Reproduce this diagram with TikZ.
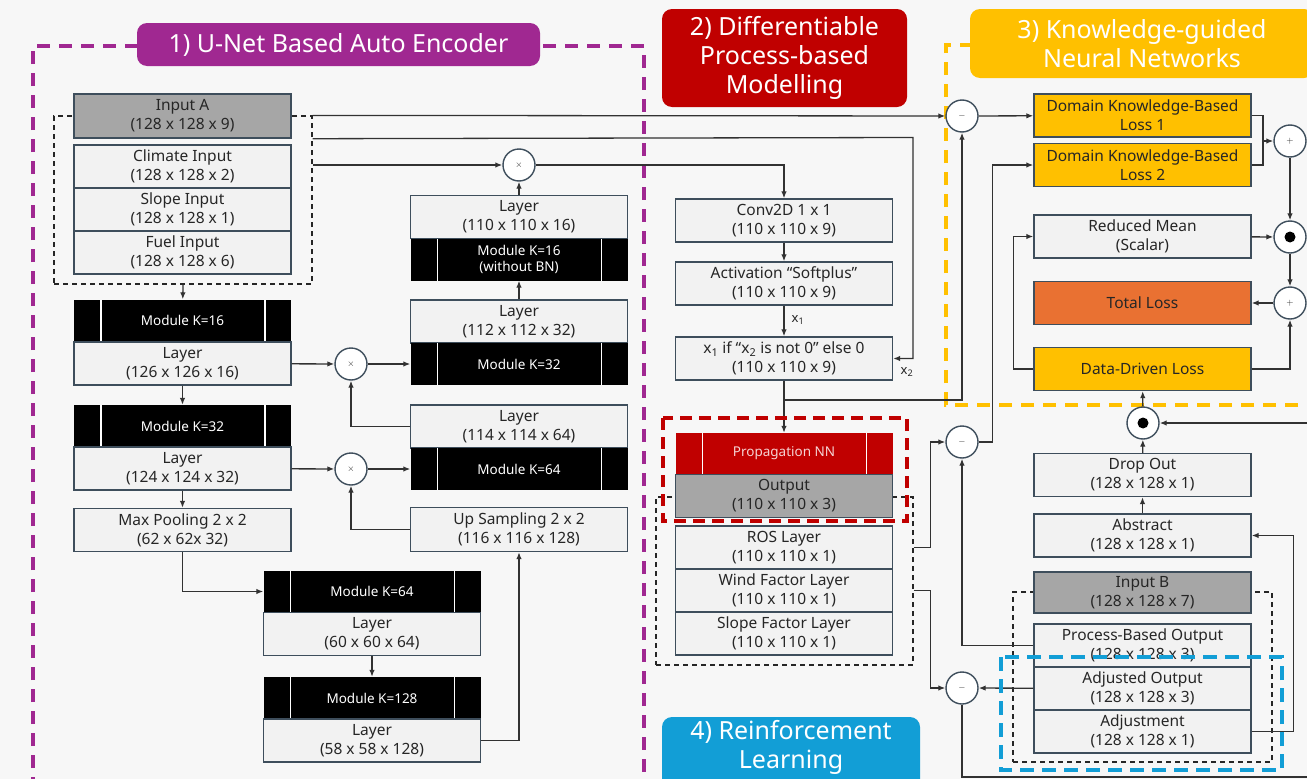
\documentclass[tikz,border=0pt]{standalone}
\usepackage{fontspec}
\setmainfont{Noto Sans}
\usetikzlibrary{arrows.meta}

\definecolor{bgc}{RGB}{247,247,247}
\definecolor{boxc}{RGB}{242,242,242}
\definecolor{edgec}{RGB}{62,78,92}
\definecolor{txtc}{RGB}{38,38,38}
\definecolor{linec}{RGB}{50,50,50}
\definecolor{darkc}{RGB}{166,166,166}
\definecolor{purpc}{RGB}{160,40,145}
\definecolor{redc}{RGB}{192,0,0}
\definecolor{pinkc}{RGB}{245,210,210}
\definecolor{yelc}{RGB}{255,192,0}
\definecolor{orgc}{RGB}{233,113,50}
\definecolor{bluec}{RGB}{18,158,214}

\tikzset{
  lay/.style={rectangle, draw=edgec, line width=1.4pt, fill=boxc, minimum width=217pt, minimum height=43pt, inner sep=0pt, align=center, text=txtc, font=\fontsize{15.5}{19}\selectfont},
  darklay/.style={lay, fill=darkc},
  losslay/.style={lay, fill=yelc},
  modk/.style={rectangle, fill=black, minimum width=217pt, minimum height=42pt, inner sep=0pt, align=center, text=white, font=\fontsize{13.5}{16}\selectfont,
    path picture={\draw[white, line width=1.2pt] ([xshift=27pt]path picture bounding box.south west) -- ([xshift=27pt]path picture bounding box.north west)
      ([xshift=-26pt]path picture bounding box.south east) -- ([xshift=-26pt]path picture bounding box.north east);}},
  opc/.style={circle, draw=edgec, line width=1.4pt, fill=white, minimum size=32pt, inner sep=0pt, text=txtc, font=\small},
  dotc/.style={opc, path picture={\fill[black] (path picture bounding box.center) circle (5.5pt);}},
  grp/.style={rectangle, draw=txtc, line width=1.2pt, dash pattern=on 5pt off 4pt, inner sep=0pt},
  wire/.style={draw=linec, line width=1.3pt},
  arr/.style={wire, -{Latex[length=7pt,width=5.5pt]}},
  secline/.style={line width=3.2pt, dash pattern=on 13pt off 9pt},
  seclab/.style={rounded corners=10pt, inner sep=0pt, text=white, align=center, font=\fontsize{25}{29}\selectfont},
  smalllab/.style={text=txtc, font=\fontsize{13}{15}\selectfont}
}

\begin{document}
\begin{tikzpicture}[x=1pt,y=1pt,yscale=-1,xscale=1]
\useasboundingbox (0,0) rectangle (1307,779);
\clip (0,0) rectangle (1307,779);
\fill[bgc] (0,0) rectangle (1307,779);

%Section Outlines
\draw[purpc, secline] (33,790) -- (33,46) -- (644,46) -- (644,790);
\draw[yelc, secline] (1320,405) -- (946,405) -- (946,45) -- (1320,45);

%Dashed Groups
\node[grp, minimum width=258pt, minimum height=168pt] (ingrp) at (183,200) {};
\node[grp, minimum width=257pt, minimum height=168pt] (rosgrp) at (784.5,581) {};
\node[grp, minimum width=259pt, minimum height=170pt] (bgrp) at (1142.5,677) {};

% U-Net encoder
\node[darklay, minimum height=44pt] (inA) at (182.5,116) {Input A\\(128 x 128 x 9)};
\node[lay] (clim) at (182.5,166.5) {Climate Input\\(128 x 128 x 2)};
\node[lay] (slp) at (182.5,209.5) {Slope Input\\(128 x 128 x 1)};
\node[lay] (fuel) at (182.5,252.5) {Fuel Input\\(128 x 128 x 6)};
\node[modk] (mkA) at (182.5,320.5) {Module K=16};
\node[lay] (lyA) at (182.5,363.5) {Layer\\(126 x 126 x 16)};
\node[modk] (mkB) at (182.5,426) {Module K=32};
\node[lay] (lyB) at (182.5,468.5) {Layer\\(124 x 124 x 32)};
\node[lay] (pool) at (182.5,530) {Max Pooling 2 x 2\\(62 x 62x 32)};
\node[modk] (mkC) at (372,591.5) {Module K=64};
\node[lay] (lyC) at (372,634) {Layer\\(60 x 60 x 64)};
\node[modk] (mkD) at (372,698) {Module K=128};
\node[lay] (lyD) at (372,740.5) {Layer\\(58 x 58 x 128)};

% U-Net decoder
\node[lay] (upA) at (519,217) {Layer\\(110 x 110 x 16)};
\node[modk] (mkE) at (519,259.5) {Module K=16\\(without BN)};
\node[lay] (upB) at (519,321.5) {Layer\\(112 x 112 x 32)};
\node[modk] (mkF) at (519,364) {Module K=32};
\node[lay] (upC) at (519,426.5) {Layer\\(114 x 114 x 64)};
\node[modk] (mkG) at (519,469) {Module K=64};
\node[lay, minimum height=44pt] (upS) at (519,529.5) {Up Sampling 2 x 2\\(116 x 116 x 128)};
\node[opc] (mulA) at (519,165) {$\times$};
\node[opc] (mulB) at (351,364) {$\times$};
\node[opc] (mulC) at (351,469) {$\times$};

% Process-based modelling
\node[lay] (conv) at (784,220.5) {Conv2D 1 x 1\\(110 x 110 x 9)};
\node[lay] (act) at (784,283.5) {Activation “Softplus”\\(110 x 110 x 9)};
\node[lay] (cond) at (784,358.5) {x\textsubscript{1} if “x\textsubscript{2} is not 0” else 0\\(110 x 110 x 9)};
\node[modk, fill=redc, text=pinkc, minimum height=41pt] (prop) at (784,453.5) {Propagation NN};
\node[darklay] (outp) at (784,496) {Output\\(110 x 110 x 3)};
\node[lay] (ros) at (784,547.5) {ROS Layer\\(110 x 110 x 1)};
\node[lay] (wind) at (784,590.5) {Wind Factor Layer\\(110 x 110 x 1)};
\node[lay] (slpf) at (784,633.5) {Slope Factor Layer\\(110 x 110 x 1)};

% Knowledge-guided losses
\node[losslay] (dkA) at (1142.5,115.5) {Domain Knowledge-Based\\Loss 1};
\node[losslay] (dkB) at (1142.5,165) {Domain Knowledge-Based\\Loss 2};
\node[lay] (rmean) at (1142.5,236.5) {Reduced Mean\\(Scalar)};
\node[lay, fill=orgc] (tot) at (1142.5,303) {Total Loss};
\node[losslay] (ddl) at (1142.5,369) {Data-Driven Loss};
\node[lay] (drop) at (1142.5,475) {Drop Out\\(128 x 128 x 1)};
\node[lay] (abst) at (1142.5,535.5) {Abstract\\(128 x 128 x 1)};
\node[darklay, minimum height=41pt] (inB) at (1142.5,592.5) {Input B\\(128 x 128 x 7)};
\node[lay] (pbo) at (1142.5,645.5) {Process-Based Output\\(128 x 128 x 3)};
\node[lay] (adjo) at (1142.5,688.5) {Adjusted Output\\(128 x 128 x 3)};
\node[lay] (adj) at (1142.5,731.5) {Adjustment\\(128 x 128 x 1)};
\node[opc] (subA) at (962,116) {$-$};
\node[opc] (subB) at (962,442) {$-$};
\node[opc] (subC) at (962,688) {$-$};
\node[opc] (addA) at (1290,141) {$+$};
\node[dotc] (dotA) at (1290,237) {};
\node[opc] (addB) at (1290,303) {$+$};
\node[dotc] (dotB) at (1143,423) {};

\coordinate (xtwo) at (913,137.5);
\coordinate (brA) at (784,400);
\coordinate (jn) at (1263,141);
\coordinate (lpA) at (962,777);
\coordinate (lpB) at (1320,777);
\coordinate (lpC) at (1320,423);

%Straight Lines
\draw[arr] (ingrp.south) -- (mkA);
\draw[arr] (lyA) -- (mkB);
\draw[arr] (lyB) -- (pool);
\draw[arr] (pool) |- (mkC);
\draw[arr] (lyC) -- (mkD);
\draw[arr] (lyD.east) -| (upS);
\draw[arr] (upS.west) -| (mulC);
\draw[arr] (lyB) -- (mulC);
\draw[arr] (mulC) -- (mkG);
\draw[arr] (upC.west) -| (mulB);
\draw[arr] (lyA) -- (mulB);
\draw[arr] (mulB) -- (mkF);
\draw[arr] (upB) -- (mkE);
\draw[arr] (upA) -- (mulA);
\draw[arr] (ingrp.east |- mulA) -- (mulA);
\draw[arr] (mulA) -| (conv);
\draw[arr] (ingrp.north east) -- (subA);
\draw[arr] (ingrp.east |- inA.south) -- (xtwo) |- (cond.east);
\draw[arr] (conv) -- (act);
\draw[arr] (act) -- (cond);
\draw[arr] (cond) -- (prop);
\draw[arr] (brA) -| (subA);
\draw[arr] (subA) -- (dkA);
\draw[wire] (dkA.east) -| (jn);
\draw[wire] (dkB.east) -| (jn);
\draw[arr] (jn) -- (addA);
\draw[arr] (addA) -- (dotA);
\draw[arr] (rmean) -- (dotA);
\draw[arr] (dotA) -- (addB);
\draw[arr] (addB) -- (tot);
\draw[arr] (ddl.east) -| (addB);
\draw[arr] (ddl.west) -- ++(-20,0) |- (rmean.west);
\draw[arr] (dotB) -- (ddl);
\draw[arr] (drop) -- (dotB);
\draw[arr] (abst) -- (drop);
\draw[arr] (adj.east) -- ++(42,0) |- (abst.east);
\draw[arr] (lpC) -- (dotB);
\draw[arr] (pbo.west) -| (subB);
\draw[arr] (subB.east) -- ++(14,0) |- (dkB.west);
\draw[arr] (rosgrp.east |- ros) -- ++(17,0) |- (subB.west);
\draw[arr] (rosgrp.east |- wind) -- ++(17,0) |- (subC.west);
\draw[arr] (adjo) -- (subC);
\draw[wire] (subC) -- (lpA) -- (lpB);

% Text Node
\node[smalllab] (xone) at (798,320) {x\textsubscript{1}};
% Text Node
\node[smalllab] (xtwolab) at (907,372) {x\textsubscript{2}};

%Highlight Boxes
\draw[redc, line width=3.2pt, dash pattern=on 12pt off 7pt] (663,418) rectangle (907,521);
\draw[bluec, line width=3.2pt, dash pattern=on 14pt off 8pt] (1001,657) rectangle (1282,770);

%Section Labels
\node[seclab, fill=purpc, minimum width=403pt, minimum height=43pt] (secA) at (338.5,44.5) {1) U-Net Based Auto Encoder};
\node[seclab, fill=redc, minimum width=245pt, minimum height=98pt] (secB) at (784.5,58) {2) Differentiable\\Process-based\\Modelling};
\node[seclab, fill=yelc, minimum width=344pt, minimum height=69pt] (secC) at (1142,43.5) {3) Knowledge-guided\\Neural Networks};
\fill[bluec, rounded corners=10pt] (662,717) rectangle (920,800);
\node[seclab] (secD) at (791,747.5) {4) Reinforcement\\Learning};

\end{tikzpicture}
\end{document}
